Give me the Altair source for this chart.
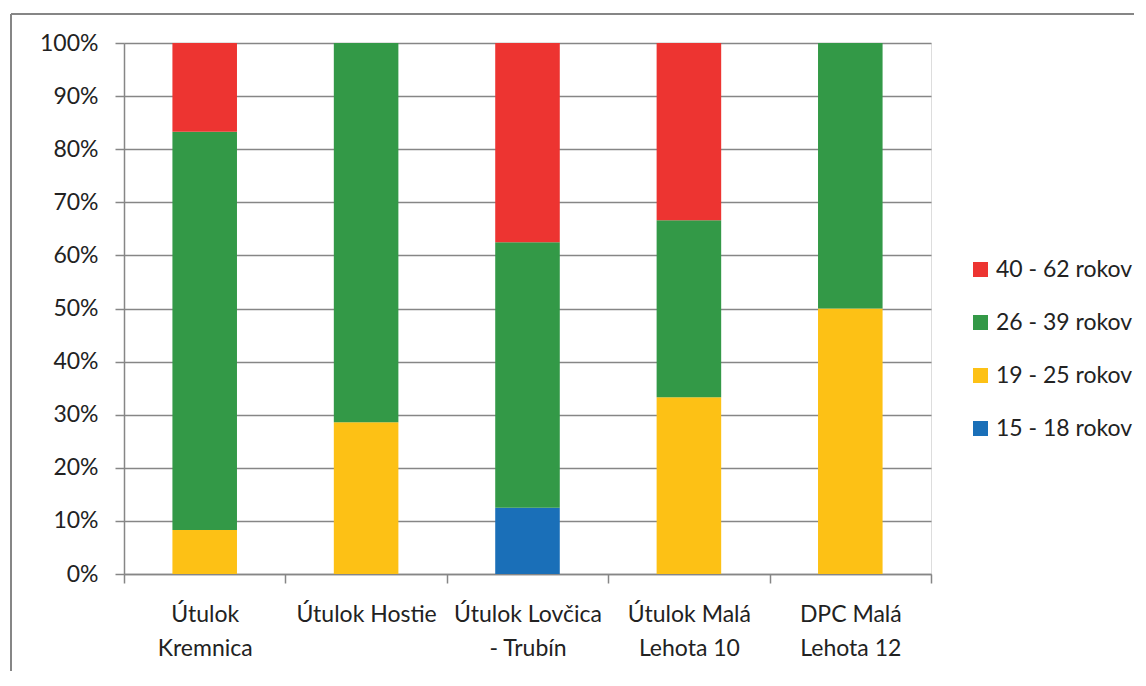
import altair as alt
import pandas as pd

categories = ["Útulok\nKremnica", "Útulok Hostie", "Útulok Lovčica\n- Trubín",
              "Útulok Malá\nLehota 10", "DPC Malá\nLehota 12"]
series_names = ["15 - 18 rokov", "19 - 25 rokov", "26 - 39 rokov", "40 - 62 rokov"]
s15_18 = [0.0, 0.0, 12.5, 0.0, 0.0]
s19_25 = [8.3, 28.6, 0.0, 33.3, 50.0]
s26_39 = [75.0, 71.4, 50.0, 33.3, 50.0]
s40_62 = [16.7, 0.0, 37.5, 33.4, 0.0]
colors = ["#1A6FB8", "#FDC115", "#339947", "#ED3431"]
y_ticks = [0, 0.1, 0.2, 0.3, 0.4, 0.5, 0.6, 0.7, 0.8, 0.9, 1.0]

rows = []
for rank, (name, vals) in enumerate(zip(series_names, [s15_18, s19_25, s26_39, s40_62])):
    for cat, v in zip(categories, vals):
        if v > 0:
            rows.append({"cat": cat, "series": name, "value": v, "rank": rank})
df = pd.DataFrame(rows)

FONT = "Lato"
FS = 23
GRAY = "#868686"

bars = alt.Chart(df).mark_bar(width=alt.RelativeBandSize(0.4)).encode(
    x=alt.X("cat:N", sort=categories, title=None,
            scale=alt.Scale(paddingInner=0, paddingOuter=0),
            axis=alt.Axis(labelAngle=0, tickBand="extent", labelExpr="split(datum.label, '\\n')",
                          labelLineHeight=34, labelPadding=20, tickSize=9,
                          labelFontSize=FS, labelFont=FONT, labelColor="#222222",
                          domainColor=GRAY, tickColor=GRAY, domainWidth=1.5, tickWidth=1.5,
                          grid=False, labelBaseline="top")),
    y=alt.Y("value:Q", stack="normalize", title=None,
            scale=alt.Scale(domain=[0, 1]),
            axis=alt.Axis(values=y_ticks, format=".0%", tickSize=9, labelPadding=17,
                          labelFontSize=FS, labelFont=FONT, labelColor="#222222",
                          domainColor=GRAY, tickColor=GRAY, gridColor=GRAY,
                          domainWidth=1.5, tickWidth=1.5, gridWidth=1.5, grid=True)),
    color=alt.Color("series:N",
                    scale=alt.Scale(domain=series_names[::-1], range=colors[::-1]),
                    legend=alt.Legend(title=None, orient="none", legendX=845, legendY=215,
                                      symbolType="square", symbolSize=225, symbolStrokeWidth=0,
                                      labelFontSize=FS, labelFont=FONT, labelColor="#222222",
                                      rowPadding=29, labelOffset=4)),
    order=alt.Order("rank:Q", sort="ascending"),
)

left_border = alt.Chart(df).mark_rule(color=GRAY, strokeWidth=1.5).encode(
    x=alt.value(-113), y=alt.value(-29), y2=alt.value(628))
top_border = alt.Chart(df).mark_rule(color=GRAY, strokeWidth=1.5).encode(
    x=alt.value(-113), x2=alt.value(1010), y=alt.value(-29))

chart = alt.layer(bars, left_border, top_border).properties(
    width=807, height=531,
    padding={"left": 2, "top": 5, "right": 0, "bottom": 0},
).configure_view(stroke=None).configure(background="white")

chart.save("out.html", embed_options={"renderer": "svg", "actions": False})
